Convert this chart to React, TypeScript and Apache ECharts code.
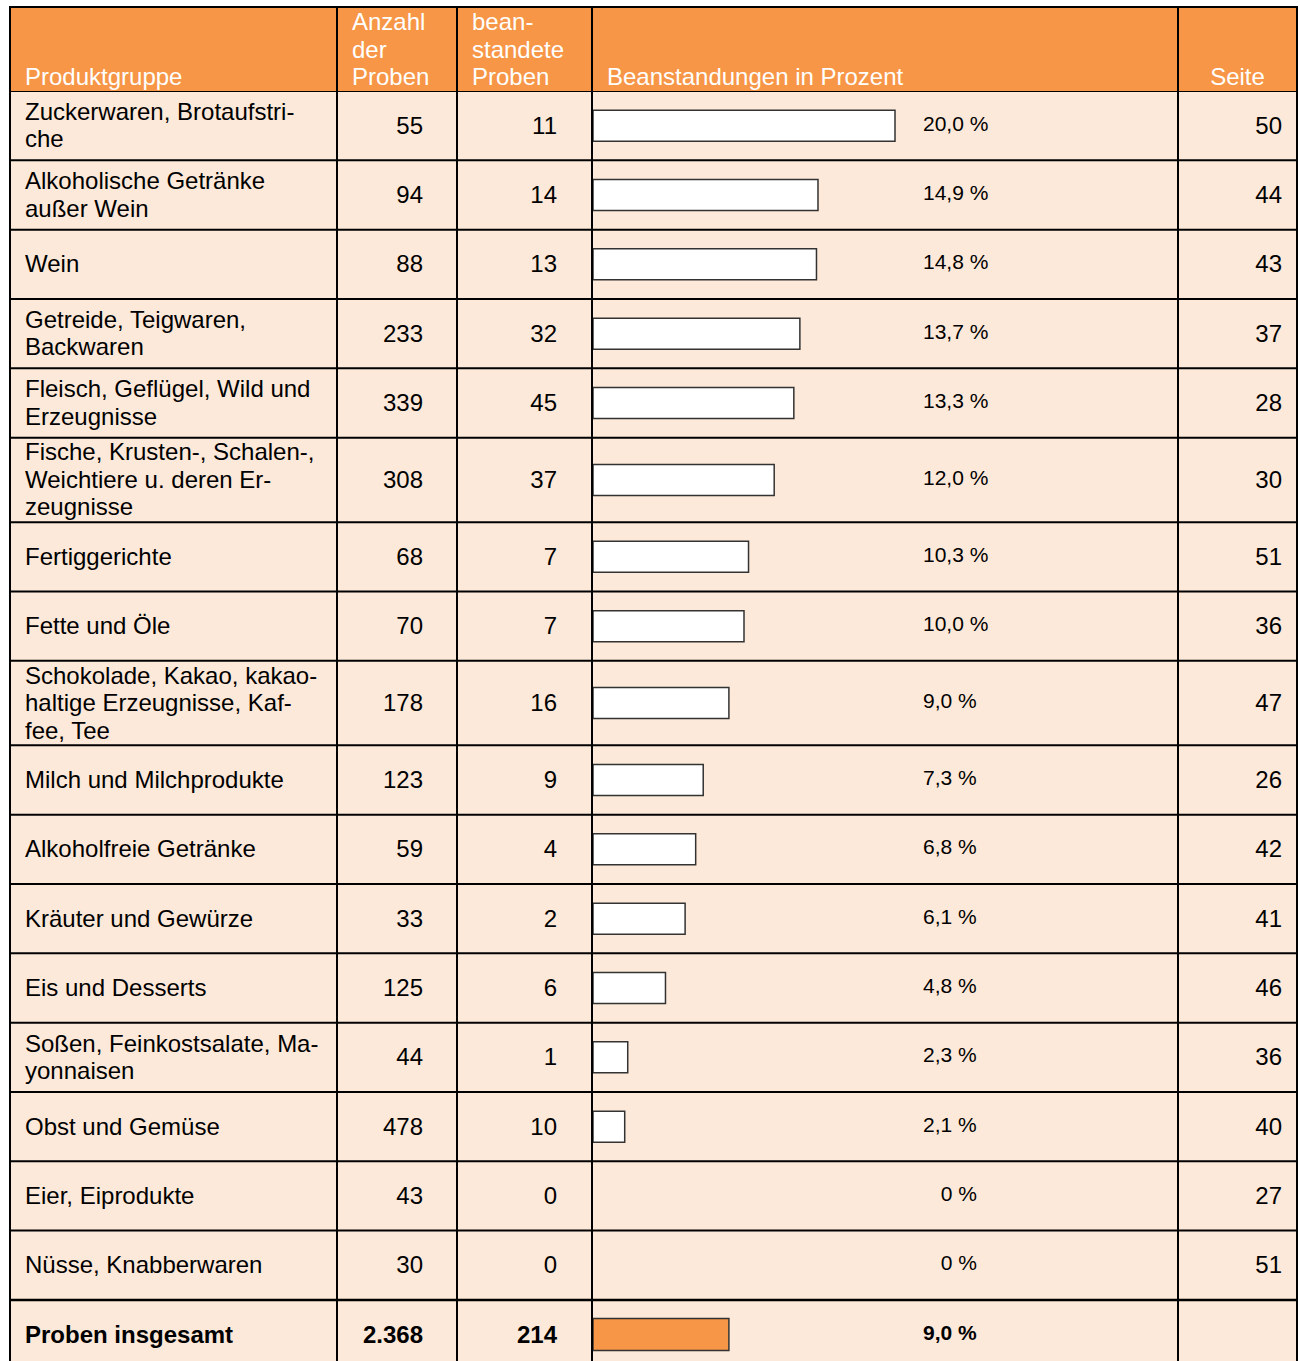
import React, { useEffect, useRef } from "react";
import * as echarts from "echarts";

// ---------- data ----------
const headers = ["Produktgruppe", "Anzahl\nder\nProben", "bean-\nstandete\nProben", "Beanstandungen in Prozent", "Seite"];
const groups = [
  "Zuckerwaren, Brotaufstri-\nche",
  "Alkoholische Getränke\naußer Wein",
  "Wein",
  "Getreide, Teigwaren,\nBackwaren",
  "Fleisch, Geflügel, Wild und\nErzeugnisse",
  "Fische, Krusten-, Schalen-,\nWeichtiere u. deren Er-\nzeugnisse",
  "Fertiggerichte",
  "Fette und Öle",
  "Schokolade, Kakao, kakao-\nhaltige Erzeugnisse, Kaf-\nfee, Tee",
  "Milch und Milchprodukte",
  "Alkoholfreie Getränke",
  "Kräuter und Gewürze",
  "Eis und Desserts",
  "Soßen, Feinkostsalate, Ma-\nyonnaisen",
  "Obst und Gemüse",
  "Eier, Eiprodukte",
  "Nüsse, Knabberwaren",
];
const samples = ["55", "94", "88", "233", "339", "308", "68", "70", "178", "123", "59", "33", "125", "44", "478", "43", "30"];
const rejected = ["11", "14", "13", "32", "45", "37", "7", "7", "16", "9", "4", "2", "6", "1", "10", "0", "0"];
const percent = [20.0, 14.9, 14.8, 13.7, 13.3, 12.0, 10.3, 10.0, 9.0, 7.3, 6.8, 6.1, 4.8, 2.3, 2.1, 0, 0];
const pages = ["50", "44", "43", "37", "28", "30", "51", "36", "47", "26", "42", "41", "46", "36", "40", "27", "51"];
const totalLabel = "Proben insgesamt";
const totalSamples = "2.368";
const totalRejected = "214";
const totalPercent = 9.0;

// ---------- layout / style ----------
const FONT = "'Liberation Sans', Arial, Helvetica, sans-serif";
const ORANGE = "#F79646";
const ROW_BG = "#FDE9D9";
const W = 1300;
const H = 1361;
const T_LEFT = 10;
const T_RIGHT = 1297;
const T_TOP = 7;
const BODY_TOP = 91;
const COLS = [337, 457, 592, 1178];
const ROW_H2 = 69.33;
const ROW_H3 = 84.5;
const LINE_H = 27.5;
const FS = 24;
const Y_SPAN = H - BODY_TOP; // axis units == pixels

const fmtPct = (v: number) => (v === 0 ? "0 %" : v.toFixed(1).replace(".", ",") + " %");

export default function App() {
  const ref = useRef<HTMLDivElement>(null);

  useEffect(() => {
    document.body.style.margin = "0";
    const chart = echarts.init(ref.current!, null, { renderer: "svg" });

    const rows = groups.map((g, i) => ({
      label: g,
      samples: samples[i],
      rejected: rejected[i],
      pct: percent[i],
      page: pages[i],
      total: false,
    }));
    rows.push({ label: totalLabel, samples: totalSamples, rejected: totalRejected, pct: totalPercent, page: "", total: true });

    let acc = 0;
    const data: number[][] = rows.map((r, i) => {
      const h = r.label.split("\n").length >= 3 ? ROW_H3 : ROW_H2;
      const c = acc + h / 2;
      acc += h;
      return [r.pct, c, h, i];
    });

    const renderItem = (params: any, api: any) => {
      const i = params.dataIndex;
      const r = rows[i];
      const v = api.value(0);
      const yc = api.value(1);
      const h = api.value(2);
      const p0 = api.coord([0, yc]);
      const p1 = api.coord([v, yc]);
      const top = api.coord([0, yc - h / 2])[1];
      const bottom = api.coord([0, yc + h / 2])[1];
      const y = p0[1] - 0.5;
      const weight = r.total ? "bold" : "normal";
      const children: any[] = [
        {
          type: "rect",
          shape: { x: T_LEFT, y: top, width: T_RIGHT - T_LEFT, height: (r.total ? H : bottom) - top + 1 },
          style: { fill: ROW_BG },
        },
        {
          type: "text",
          style: {
            text: r.label, x: 25, y, align: "left", verticalAlign: "middle",
            fontSize: FS, fontFamily: FONT, fontWeight: weight, lineHeight: LINE_H, fill: "#000",
          },
        },
        {
          type: "text",
          style: { text: r.samples, x: 423, y, align: "right", verticalAlign: "middle", fontSize: FS, fontFamily: FONT, fontWeight: weight, fill: "#000" },
        },
        {
          type: "text",
          style: { text: r.rejected, x: 557, y, align: "right", verticalAlign: "middle", fontSize: FS, fontFamily: FONT, fontWeight: weight, fill: "#000" },
        },
        {
          type: "text",
          style: { text: r.page, x: 1282, y, align: "right", verticalAlign: "middle", fontSize: FS, fontFamily: FONT, fill: "#000" },
        },
        {
          type: "text",
          style: {
            text: fmtPct(v),
            x: v === 0 ? 977 : 923,
            y: y - 2,
            align: v === 0 ? "right" : "left",
            verticalAlign: "middle",
            fontSize: 21, fontFamily: FONT, fontWeight: weight, fill: "#000",
          },
        },
      ];
      if (v > 0) {
        const bh = r.total ? 32 : 31;
        children.push({
          type: "rect",
          shape: { x: p0[0], y: p0[1] - bh / 2, width: p1[0] - p0[0], height: bh },
          style: { fill: r.total ? ORANGE : "#ffffff", stroke: "#333333", lineWidth: 1.5 },
        });
      }
      children.push({
        type: "line",
        shape: { x1: T_LEFT, y1: top, x2: T_RIGHT, y2: top },
        style: { stroke: "#000", lineWidth: r.total ? 2.5 : 2 },
      });
      return { type: "group", children };
    };

    const graphics: any[] = [
      {
        type: "rect", z: 100,
        shape: { x: T_LEFT, y: T_TOP, width: T_RIGHT - T_LEFT, height: BODY_TOP - T_TOP },
        style: { fill: ORANGE },
      },
    ];
    const headerX = [25, 352, 472, 607, 1237.5];
    headers.forEach((t, k) => {
      const n = t.split("\n").length;
      graphics.push({
        type: "text", z: 101,
        style: {
          text: t, x: headerX[k], y: 76.5 - ((n - 1) * LINE_H) / 2,
          align: k === 4 ? "center" : "left", verticalAlign: "middle",
          fontSize: FS, fontFamily: FONT, lineHeight: LINE_H, fill: "#ffffff",
        },
      });
    });
    [T_LEFT, ...COLS, T_RIGHT].forEach((x) => {
      graphics.push({
        type: "line", z: 102,
        shape: { x1: x, y1: T_TOP - 1, x2: x, y2: H + 10 },
        style: { stroke: "#000", lineWidth: 2 },
      });
    });
    graphics.push({
      type: "line", z: 102,
      shape: { x1: T_LEFT, y1: T_TOP, x2: T_RIGHT, y2: T_TOP },
      style: { stroke: "#000", lineWidth: 2 },
    });

    chart.setOption({
      animation: false,
      backgroundColor: "#ffffff",
      grid: { left: 593, top: BODY_TOP, width: 302, height: Y_SPAN },
      xAxis: { type: "value", min: 0, max: 20, show: false },
      yAxis: { type: "value", min: 0, max: Y_SPAN, inverse: true, show: false },
      series: [
        {
          type: "custom",
          renderItem,
          data,
          encode: { x: 0, y: 1 },
          clip: false,
        },
      ],
      graphic: graphics,
    });

    return () => chart.dispose();
  }, []);

  return <div ref={ref} style={{ width: W, height: H }} />;
}
